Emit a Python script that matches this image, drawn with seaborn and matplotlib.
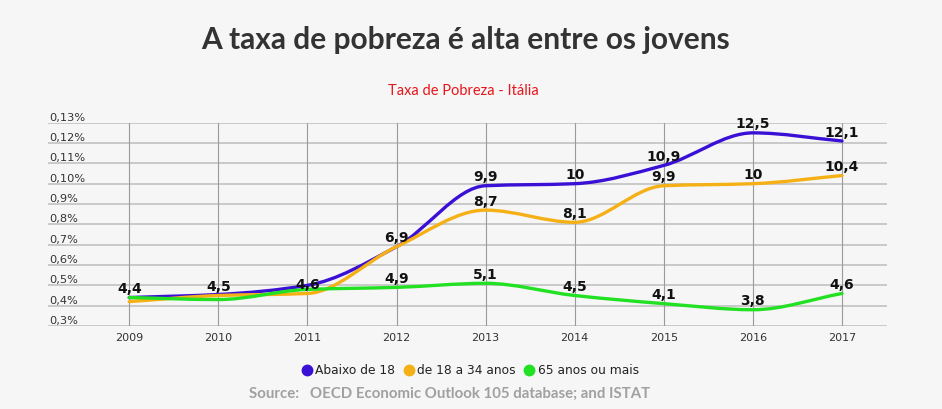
import numpy as np
import matplotlib
matplotlib.use("Agg")
import matplotlib.pyplot as plt
from matplotlib.path import Path
from matplotlib.patches import PathPatch
from matplotlib.lines import Line2D
import seaborn as sns

sns.set_theme(style="white")
plt.rcParams["font.family"] = ["DejaVu Sans"]

# data
years = [2009, 2010, 2011, 2012, 2013, 2014, 2015, 2016, 2017]
series_names = ["Abaixo de 18", "de 18 a 34 anos", "65 anos ou mais"]
abaixo_18 = [4.4, 4.55, 5.0, 6.9, 9.9, 10.0, 10.9, 12.5, 12.1]
de_18_34 = [4.2, 4.5, 4.6, 6.9, 8.7, 8.1, 9.9, 10.0, 10.4]
mais_65 = [4.4, 4.3, 4.8, 4.9, 5.1, 4.5, 4.1, 3.8, 4.6]
# which points carry a value label in the reference
shown_abaixo_18 = [2012, 2013, 2014, 2015, 2016, 2017]
shown_de_18_34 = [2010, 2011, 2013, 2014, 2015, 2016, 2017]
shown_mais_65 = [2009, 2012, 2013, 2014, 2015, 2016, 2017]
y_ticks = [3, 4, 5, 6, 7, 8, 9, 10, 11, 12, 13]

colors = sns.color_palette(["#3a10d6", "#f5b016", "#22e022"])


def smooth_path(xs, ys):
    # monotone cubic (Fritsch-Carlson) drawn as bezier segments
    xs = np.asarray(xs, float)
    ys = np.asarray(ys, float)
    h = np.diff(xs)
    d = np.diff(ys) / h
    m = np.zeros_like(ys)
    m[0], m[-1] = d[0], d[-1]
    for i in range(1, len(ys) - 1):
        if d[i - 1] * d[i] <= 0:
            m[i] = 0
        else:
            m[i] = 2 / (1 / d[i - 1] + 1 / d[i])
    verts = [(xs[0], ys[0])]
    codes = [Path.MOVETO]
    for i in range(len(xs) - 1):
        verts += [(xs[i] + h[i] / 3, ys[i] + m[i] * h[i] / 3),
                  (xs[i + 1] - h[i] / 3, ys[i + 1] - m[i + 1] * h[i] / 3),
                  (xs[i + 1], ys[i + 1])]
        codes += [Path.CURVE4] * 3
    return Path(verts, codes)


fig = plt.figure(figsize=(9.42, 4.09), dpi=100)
fig.patch.set_facecolor("#f6f6f6")
ax = fig.add_axes([48 / 942, 1 - 326 / 409, (887 - 48) / 942, (326 - 122.7) / 409])
ax.set_facecolor("none")

xpos = np.arange(len(years))
ax.set_xlim(-0.912, len(years) - 1 + 0.505)
ax.set_ylim(y_ticks[0], y_ticks[-1])
for s in ax.spines.values():
    s.set_visible(False)

for v in y_ticks:
    ax.axhline(v, color="#c6c6c6", lw=1.3, zorder=1)
    ax.text(0.002, v, f"0,{v}%", transform=ax.get_yaxis_transform(),
            ha="left", va="bottom", fontsize=8.2, color="#333333")
for x in xpos:
    ax.plot([x, x], [y_ticks[0], y_ticks[-1]], color="#9a9a9a", lw=0.8, zorder=1)

ax.set_yticks([])
ax.set_xticks(xpos)
ax.set_xticklabels([str(y) for y in years], fontsize=8, color="#333333")
ax.tick_params(axis="x", length=0, pad=5)

all_series = [abaixo_18, de_18_34, mais_65]
all_shown = [shown_abaixo_18, shown_de_18_34, shown_mais_65]
for vals, shown, col in zip(all_series, all_shown, colors):
    ax.add_patch(PathPatch(smooth_path(xpos, vals), facecolor="none",
                           edgecolor=col, lw=2.4, zorder=3, capstyle="round"))
    for x, yr, v in zip(xpos, years, vals):
        if yr in shown:
            txt = f"{v:.1f}".rstrip("0").rstrip(".").replace(".", ",")
            ax.annotate(txt, (x, v), xytext=(0, 1), textcoords="offset points",
                        ha="center", va="bottom", fontsize=10,
                        fontweight="bold", color="#111111", zorder=4)

fig.text(0.494, 1 - 40 / 409, "A taxa de pobreza é alta entre os jovens",
         ha="center", va="center", fontsize=21.5, fontweight="bold",
         family="Lato", color="#333333")
fig.text(463 / 942, 1 - 91 / 409, "Taxa de Pobreza - Itália", ha="center",
         va="center", fontsize=10.5, family="Lato", color="#e8161b")

handles = [Line2D([], [], marker="o", ls="none", color=c, markersize=7.5)
           for c in colors]
fig.legend(handles, series_names, loc="center", ncol=3,
           bbox_to_anchor=(469 / 942, 1 - 371 / 409), frameon=False,
           fontsize=8.8, handletextpad=0.1, columnspacing=0.5,
           handlelength=1.2, labelcolor="#222222")
fig.text(450 / 942, 1 - 394 / 409,
         "Source:   OECD Economic Outlook 105 database; and ISTAT",
         ha="center", va="center", fontsize=10.8, fontweight="bold",
         family="Lato", color="#a0a0a0")

fig.savefig("out.png", dpi=100, facecolor=fig.get_facecolor())
